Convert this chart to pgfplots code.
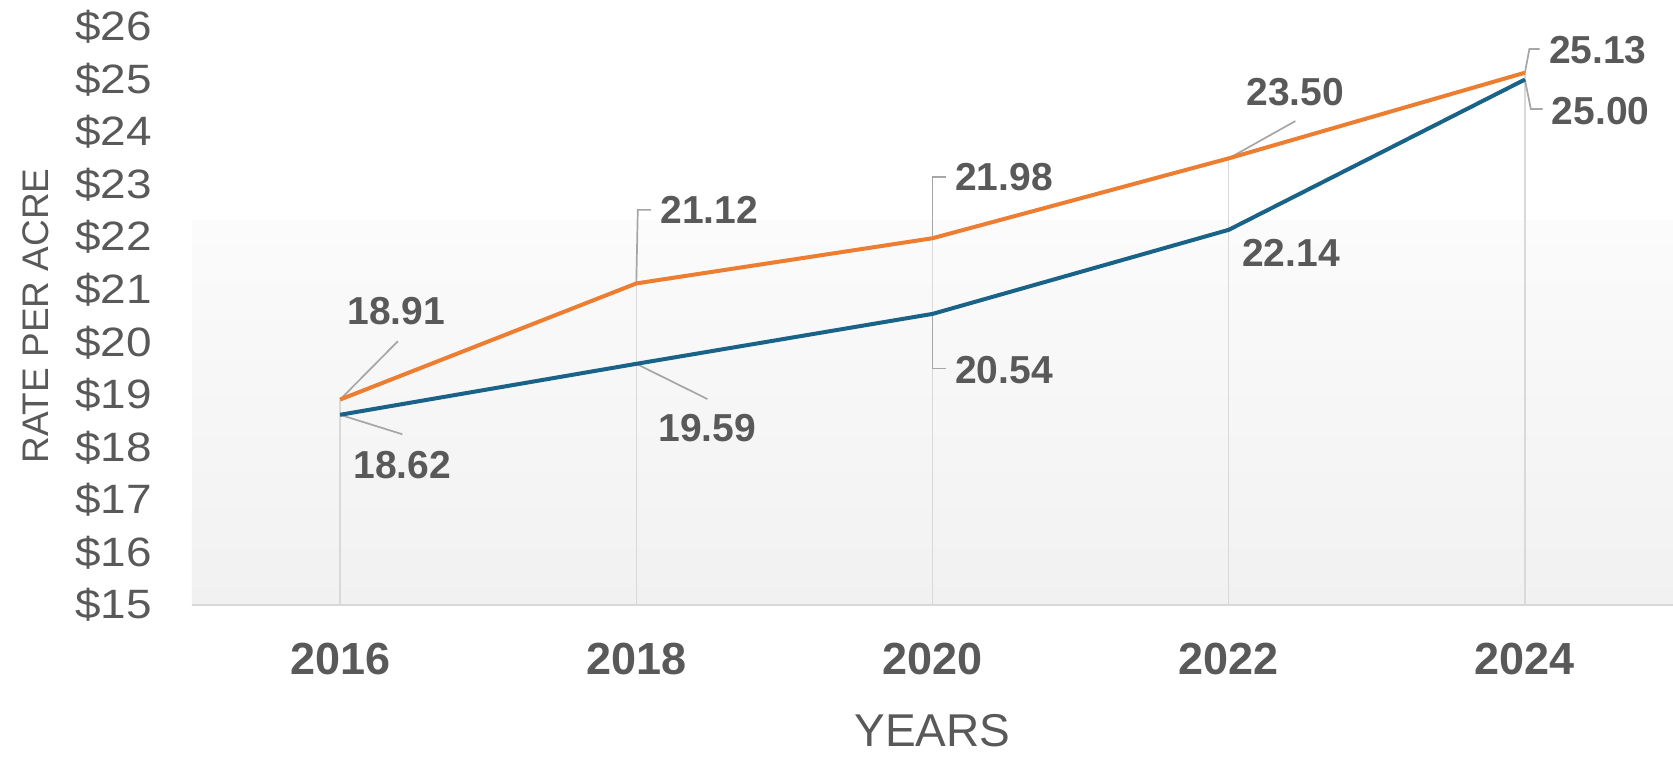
\documentclass[border=0pt]{standalone}
\usepackage{fontspec}
\setmainfont{Liberation Sans}
\newfontfamily\tickfont[FakeStretch=1.12]{Liberation Sans}
\usepackage{pgfplots}
\pgfplotsset{compat=1.18}
\definecolor{txt}{HTML}{595959}
\definecolor{org}{HTML}{ED7D31}
\definecolor{blu}{HTML}{1A6388}
\definecolor{lead}{HTML}{A6A6A6}
\definecolor{drop}{HTML}{D9D9D9}
\tikzset{
  lab/.style={font=\bfseries\fontsize{19.5}{22}\selectfont, text=txt, inner sep=0pt},
  ld/.style={draw=lead, line width=0.85pt},
}
\begin{document}
\begin{tikzpicture}
\begin{axis}[
  at={(0,0)}, anchor=south west,
  scale only axis, width=740.5pt, height=289pt,
  xmin=2015, xmax=2025, ymin=15, ymax=26,
  axis line style={draw=none},
  major tick length=0pt,
  xtick={2016,2018,2020,2022,2024},
  xticklabels={2016,2018,2020,2022,2024},
  ytick={15,16,17,18,19,20,21,22,23,24,25,26},
  yticklabels={\$15,\$16,\$17,\$18,\$19,\$20,\$21,\$22,\$23,\$24,\$25,\$26},
  yticklabel style={font=\tickfont\fontsize{20.5}{24}\selectfont, text=txt, xshift=-16.5pt},
  xticklabel style={font=\bfseries\fontsize{22.5}{26}\selectfont, text=txt, yshift=-15.5pt},
  xlabel={YEARS},
  ylabel={RATE PER ACRE},
  xlabel style={at={(axis description cs:0.5,-0.2180)}, anchor=center, font=\fontsize{23}{26}\selectfont, text=txt},
  ylabel style={at={(axis description cs:-0.1053,0.5)}, anchor=center, font=\fontsize{18.5}{22}\selectfont, text=txt},
  after end axis/.code={\draw[drop, line width=1.1pt] (rel axis cs:0,0) -- (rel axis cs:1,0);},
]
\shade[top color=black!1.5, bottom color=black!5.5] (rel axis cs:0,0) rectangle (rel axis cs:1,0.666);
% drop lines
\addplot[ycomb, draw=drop, line width=0.7pt, no markers] coordinates {
  (2016,18.91) (2018,21.12) (2020,21.98) (2022,23.50) (2024,25.13)};
% leader lines
\draw[ld] (axis cs:2016,18.91) -- (axis cs:2016.39,20.02);
\draw[ld] (axis cs:2016,18.62) -- (axis cs:2016.42,18.25);
\draw[ld] (axis cs:2018,21.12) -- (axis cs:2018.01,22.52) -- (axis cs:2018.10,22.52);
\draw[ld] (axis cs:2018,19.59) -- (axis cs:2018.48,18.92);
\draw[ld] (axis cs:2020,21.98) -- (axis cs:2020,23.15) -- (axis cs:2020.09,23.15);
\draw[ld] (axis cs:2020,20.54) -- (axis cs:2020,19.50) -- (axis cs:2020.09,19.50);
\draw[ld] (axis cs:2022,23.50) -- (axis cs:2022.45,24.21);
\draw[ld] (axis cs:2024,25.13) -- (axis cs:2024.03,25.58) -- (axis cs:2024.10,25.58);
\draw[ld] (axis cs:2024,25.00) -- (axis cs:2024.04,24.44) -- (axis cs:2024.12,24.44);
% series
\addplot[blu, line width=2pt, line join=round, no markers] coordinates {
  (2016,18.62) (2018,19.59) (2020,20.54) (2022,22.14) (2024,25.00)};
\addplot[org, line width=2pt, line join=round, no markers] coordinates {
  (2016,18.91) (2018,21.12) (2020,21.98) (2022,23.50) (2024,25.13)};
% data labels
\node[lab, anchor=center] at (axis cs:2016.38,20.59) {18.91};
\node[lab, anchor=center] at (axis cs:2016.42,17.66) {18.62};
\node[lab, anchor=west] at (axis cs:2018.16,22.52) {21.12};
\node[lab, anchor=center] at (axis cs:2018.48,18.37) {19.59};
\node[lab, anchor=west] at (axis cs:2020.15,23.14) {21.98};
\node[lab, anchor=west] at (axis cs:2020.15,19.47) {20.54};
\node[lab, anchor=center] at (axis cs:2022.45,24.76) {23.50};
\node[lab, anchor=center] at (axis cs:2022.42,21.70) {22.14};
\node[lab, anchor=west] at (axis cs:2024.16,25.56) {25.13};
\node[lab, anchor=west] at (axis cs:2024.18,24.40) {25.00};
\end{axis}
\pgfresetboundingbox
\path (-96pt,-76pt) rectangle (740.5pt,302.5pt);
\end{tikzpicture}
\end{document}
